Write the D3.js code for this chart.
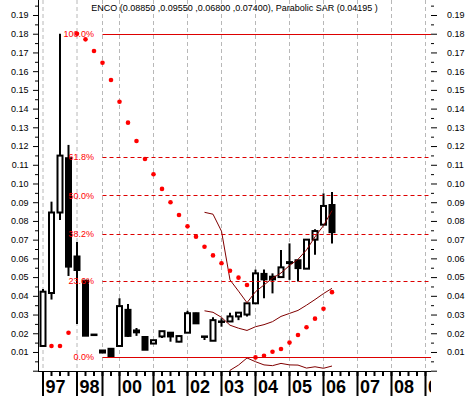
<!DOCTYPE html>
<html>
<head>
<meta charset="utf-8">
<script src="https://cdn.jsdelivr.net/npm/d3@7"></script>
<style>
body { margin: 0; background: #ffffff; }
svg { display: block; }
text { font-family: "Liberation Sans", Arial, sans-serif; }
</style>
</head>
<body>
<div id="chart"></div>
<script>
const svgWidth = 469
const svgHeight = 396

// quarterly candles, index 0 = first quarter of 97
const opens  = [0.0132, 0.0415, 0.0845, 0.1135, 0.0610, 0.0481, 0.0193, 0.0108, 0.0117, 0.0132,
                0.0325, 0.0215, 0.0180, 0.0145, 0.0183, 0.0203, 0.0155, 0.0203, 0.0307, 0.0183,
                0.0160, 0.0263, 0.0263, 0.0290, 0.0300, 0.0360, 0.0517, 0.0502, 0.0500, 0.0580,
                0.0590, 0.0545, 0.0700, 0.0780, 0.0885]
const highs  = [0.0437, 0.0903, 0.1800, 0.1206, 0.0688, 0.0481, 0.0193, 0.0108, 0.0117, 0.0387,
                0.0356, 0.0228, 0.0180, 0.0164, 0.0212, 0.0203, 0.0187, 0.0320, 0.0310, 0.0183,
                0.0285, 0.0280, 0.0310, 0.0310, 0.0360, 0.0540, 0.0540, 0.0520, 0.0645, 0.0680,
                0.0590, 0.0702, 0.0755, 0.0947, 0.0955]
const lows   = [0.0132, 0.0380, 0.0805, 0.0506, 0.0250, 0.0187, 0.0192, 0.0097, 0.0072, 0.0132,
                0.0180, 0.0186, 0.0111, 0.0143, 0.0175, 0.0155, 0.0152, 0.0203, 0.0253, 0.0164,
                0.0160, 0.0235, 0.0263, 0.0270, 0.0289, 0.0360, 0.0387, 0.0413, 0.0500, 0.0485,
                0.0477, 0.0545, 0.0620, 0.0780, 0.0680]
const closes = [0.0422, 0.0845, 0.1149, 0.0556, 0.0538, 0.0187, 0.0192, 0.0097, 0.0075, 0.0345,
                0.0186, 0.0205, 0.0112, 0.0163, 0.0211, 0.0183, 0.0185, 0.0307, 0.0253, 0.0181,
                0.0270, 0.0261, 0.0290, 0.0310, 0.0360, 0.0520, 0.0488, 0.0488, 0.0552, 0.0575,
                0.0548, 0.0700, 0.0746, 0.0880, 0.0740]

const sarValues = [null, 0.0132, 0.0132, 0.0203, 0.1800, 0.1770, 0.1708, 0.1645, 0.1553, 0.1437,
                   0.1325, 0.1227, 0.1131, 0.1049, 0.0971, 0.0900, 0.0832, 0.0771, 0.0716, 0.0662,
                   0.0616, 0.0574, 0.0534, 0.0497, 0.0458, 0.0071, 0.0080, 0.0101, 0.0116, 0.0150,
                   0.0191, 0.0232, 0.0278, 0.0331, 0.04195]

const bandUpper = [null, null, null, null, null, null, null, null, null, null,
                   null, null, null, null, null, null, null, null, null, 0.0846,
                   0.0836, 0.0745, 0.0485, 0.0425, 0.0363, 0.0422, 0.0458, 0.0494, 0.0522, 0.0562,
                   0.0595, 0.0645, 0.0715, 0.0775, 0.0855]
const bandMiddle = [null, null, null, null, null, null, null, null, null, null,
                    null, null, null, null, null, null, null, null, null, 0.0320,
                    0.0312, 0.0285, 0.0243, 0.0227, 0.0215, 0.0235, 0.0246, 0.0262, 0.0290, 0.0306,
                    0.0322, 0.0350, 0.0380, 0.0412, 0.0440]
const bandLower = [null, null, null, null, null, null, null, null, null, null,
                   null, null, null, null, null, null, null, null, null, -0.0210,
                   -0.0220, -0.0180, 0.0002, 0.0030, 0.0068, 0.0048, 0.0031, 0.0027, 0.0039, 0.0031,
                   0.0030, 0.0014, 0.0021, 0.0013, 0.0025]

const yearStarts = [0, 4, 7, 9, 13, 17, 21, 25, 29, 33, 37, 41, 45]
const yearLabels = ["97", "98", "99", "00", "01", "02", "03", "04", "05", "06", "07", "08", "09"]

const fibLevels = [0, 0.236, 0.382, 0.5, 0.618, 1]
const fibLabels = ["0.0%", "23.6%", "38.2%", "50.0%", "61.8%", "100.0%"]
const fibStart = 7

const yMajorTicks = [0, 0.01, 0.02, 0.03, 0.04, 0.05, 0.06, 0.07, 0.08, 0.09, 0.10,
                     0.11, 0.12, 0.13, 0.14, 0.15, 0.16, 0.17, 0.18, 0.19]
const yMinorTicks = [0.005, 0.015, 0.025, 0.035, 0.045, 0.055, 0.065, 0.075, 0.085, 0.095,
                     0.105, 0.115, 0.125, 0.135, 0.145, 0.155, 0.165, 0.175, 0.185, 0.195]

const plot = { left: 38, right: 431, top: 0, bottom: 371 }

const x = d3.scaleLinear().domain([0, 45]).range([43, 425.5])
const y = d3.scaleLinear().domain([0, 0.19]).range([370.7, 15])

const candles = opens.map((o, i) => ({ i, o, h: highs[i], l: lows[i], c: closes[i] }))

const svg = d3.select("#chart").append("svg")
    .attr("width", svgWidth)
    .attr("height", svgHeight)

svg.append("rect").attr("width", svgWidth).attr("height", svgHeight).attr("fill", "#ffffff")

const defs = svg.append("defs")
defs.append("clipPath").attr("id", "plotClip")
    .append("rect")
    .attr("x", plot.left).attr("y", plot.top)
    .attr("width", plot.right - plot.left).attr("height", plot.bottom - plot.top)
defs.append("clipPath").attr("id", "xAxisClip")
    .append("rect")
    .attr("x", plot.left).attr("y", plot.bottom)
    .attr("width", plot.right - plot.left).attr("height", svgHeight - plot.bottom)

// vertical year grid
svg.append("g").selectAll("line")
    .data(yearStarts)
    .enter().append("line")
    .attr("x1", d => x(d)).attr("x2", d => x(d))
    .attr("y1", plot.top).attr("y2", plot.bottom)
    .attr("stroke", "#b8b8b8")
    .attr("stroke-dasharray", "4,3")

// fibonacci retracement
const maxHigh = d3.max(highs)
const minLow = d3.min(lows)
const fibG = svg.append("g")
fibG.selectAll("line")
    .data(fibLevels)
    .enter().append("line")
    .attr("x1", x(fibStart)).attr("x2", plot.right)
    .attr("y1", d => Math.round(y(minLow + d * (maxHigh - minLow))) + 0.5)
    .attr("y2", d => Math.round(y(minLow + d * (maxHigh - minLow))) + 0.5)
    .attr("stroke", "#dd0000")
    .attr("stroke-dasharray", d => (d === 0 || d === 1) ? null : "4,3")

// bollinger bands
const bandLine = d3.line()
    .defined(d => d !== null)
    .x((d, i) => x(i))
    .y(d => y(d))

const bandG = svg.append("g").attr("clip-path", "url(#plotClip)")
;[bandUpper, bandMiddle, bandLower].forEach(series => {
    bandG.append("path")
        .attr("d", bandLine(series))
        .attr("fill", "none")
        .attr("stroke", "#800000")
        .attr("stroke-width", 1)
})

// candles
const candleG = svg.append("g").attr("clip-path", "url(#plotClip)")
const bodyWidth = 5

candleG.selectAll("line.wick")
    .data(candles)
    .enter().append("line")
    .attr("class", "wick")
    .attr("x1", d => x(d.i)).attr("x2", d => x(d.i))
    .attr("y1", d => y(d.h)).attr("y2", d => y(d.l))
    .attr("stroke", "#000000")
    .attr("stroke-width", 2)

candleG.selectAll("rect.body")
    .data(candles)
    .enter().append("rect")
    .attr("class", "body")
    .attr("x", d => x(d.i) - bodyWidth / 2)
    .attr("y", d => y(Math.max(d.o, d.c)))
    .attr("width", bodyWidth)
    .attr("height", d => Math.max(Math.abs(y(d.o) - y(d.c)), 0.5))
    .attr("fill", d => d.c >= d.o ? "#ffffff" : "#000000")
    .attr("stroke", "#000000")
    .attr("stroke-width", 2)

// bands above the candles again so the rising upper band shows through
bandG.raise()

// parabolic SAR
svg.append("g").selectAll("circle")
    .data(sarValues.map((v, i) => ({ i, v })).filter(d => d.v !== null))
    .enter().append("circle")
    .attr("cx", d => x(d.i))
    .attr("cy", d => y(d.v))
    .attr("r", 2.3)
    .attr("fill", "#ff0000")

// fib labels
fibG.selectAll("text")
    .data(fibLevels)
    .enter().append("text")
    .attr("x", 94)
    .attr("y", d => y(minLow + d * (maxHigh - minLow)))
    .attr("dy", "0.35em")
    .attr("text-anchor", "end")
    .attr("font-size", 9)
    .attr("fill", "#ff0000")
    .text((d, i) => fibLabels[i])
fibG.raise()

// left axis
svg.append("line")
    .attr("x1", plot.left + 0.5).attr("x2", plot.left + 0.5)
    .attr("y1", plot.top).attr("y2", plot.bottom)
    .attr("stroke", "#000000")

const fmt = d => d === 0 ? "" : d3.format(".2f")(d)

const leftAxis = svg.append("g")
    .attr("transform", `translate(${plot.left}, 0)`)
    .call(d3.axisLeft(y).tickValues(yMajorTicks).tickSize(5).tickPadding(4.5).tickFormat(fmt))
const leftMinor = svg.append("g")
    .attr("transform", `translate(${plot.left}, 0)`)
    .call(d3.axisLeft(y).tickValues(yMinorTicks).tickSize(3).tickFormat(""))

const rightAxis = svg.append("g")
    .attr("transform", `translate(${plot.right}, 0)`)
    .call(d3.axisRight(y).tickValues(yMajorTicks).tickSize(6).tickPadding(10).tickFormat(fmt))
const rightMinor = svg.append("g")
    .attr("transform", `translate(${plot.right}, 0)`)
    .call(d3.axisRight(y).tickValues(yMinorTicks).tickSize(3).tickFormat(""))

;[leftAxis, leftMinor, rightAxis, rightMinor].forEach(g => {
    g.select(".domain").remove()
    g.attr("font-family", null).attr("font-size", null)
    g.selectAll("text").attr("font-size", 9).attr("fill", "#000000")
    g.selectAll("line").attr("stroke", "#000000")
})

// bottom axis
const xAxisG = svg.append("g").attr("clip-path", "url(#xAxisClip)")
xAxisG.append("line")
    .attr("x1", plot.left).attr("x2", plot.right)
    .attr("y1", plot.bottom + 0.5).attr("y2", plot.bottom + 0.5)
    .attr("stroke", "#000000")

xAxisG.selectAll("line.minor")
    .data(d3.range(0, 46))
    .enter().append("line")
    .attr("class", "minor")
    .attr("x1", d => x(d)).attr("x2", d => x(d))
    .attr("y1", plot.bottom).attr("y2", plot.bottom + 5)
    .attr("stroke", "#000000")
    .attr("stroke-width", 2)

xAxisG.selectAll("line.year")
    .data(yearStarts)
    .enter().append("line")
    .attr("class", "year")
    .attr("x1", d => x(d)).attr("x2", d => x(d))
    .attr("y1", plot.bottom).attr("y2", svgHeight)
    .attr("stroke", "#000000")
    .attr("stroke-width", 2)

xAxisG.selectAll("text")
    .data(yearStarts.map((s, k) => ({ s, label: yearLabels[k], next: yearStarts[k + 1] })))
    .enter().append("text")
    .filter(d => d.next === undefined || x(d.next) - x(d.s) > 24)
    .attr("x", d => x(d.s) + 2.5)
    .attr("y", 393)
    .attr("font-size", 18)
    .attr("font-weight", "bold")
    .attr("fill", "#000000")
    .text(d => d.label)

// title
const last = candles.length - 1
const f5 = d3.format(".5f")
svg.append("text")
    .attr("x", (plot.left + plot.right) / 2)
    .attr("y", 10.5)
    .attr("text-anchor", "middle")
    .attr("font-size", 9)
    .attr("fill", "#000000")
    .text(`ENCO (${f5(opens[last])} ,${f5(highs[last])} ,${f5(lows[last])} ,${f5(closes[last])}), Parabolic SAR (${f5(sarValues[last])} )`)
</script>
</body>
</html>
